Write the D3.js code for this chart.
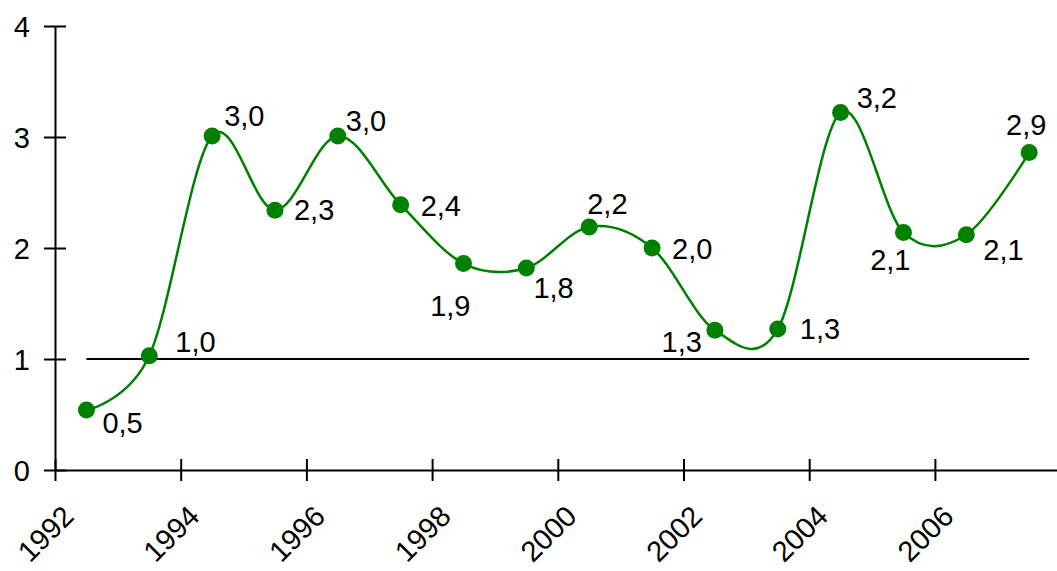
<!DOCTYPE html>
<html>
<head>
<meta charset="utf-8">
<script src="https://cdn.jsdelivr.net/npm/d3@7"></script>
<style>
  html, body { margin: 0; padding: 0; background: #fff; }
  svg { display: block; font-family: "Liberation Sans", Arial, sans-serif; }
</style>
</head>
<body>
<svg id="chart" width="1057" height="571"></svg>
<script>
// Yearly values, plotted at the middle of each year
const periods = [1992, 1993, 1994, 1995, 1996, 1997, 1998, 1999,
                 2000, 2001, 2002, 2003, 2004, 2005, 2006, 2007];
const values  = [0.54, 1.03, 3.01, 2.34, 3.01, 2.39, 1.86, 1.82,
                 2.19, 2.00, 1.26, 1.27, 3.22, 2.14, 2.12, 2.86];

// Axis ticks
const xTickYears = [1992, 1994, 1996, 1998, 2000, 2002, 2004, 2006];
const yTickValues = [0, 1, 2, 3, 4];

// Horizontal reference level
const referenceLevel = 1;

// Value label placement around each point: [dx, dy, anchor]
const labelPlacement = [
  [16, 23, "start"], [26, -4, "start"], [12, -10, "start"], [19, 10, "start"],
  [8, -5, "start"],  [20, 11, "start"], [7, 52, "end"],     [7, 30, "start"],
  [-2, -13, "start"], [20, 11, "start"], [-13, 22, "end"],  [22, 10, "start"],
  [16, -5, "start"], [7, 38, "end"],    [17, 25, "start"],  [-3, -18, "middle"]
];

const svg = d3.select("#chart");
const x = d3.scaleLinear().domain([1992, 2008]).range([55, 1060.6]);
const y = d3.scaleLinear().domain([0, 4]).range([470, 26]);

const commaLocale = d3.formatLocale({ decimal: ",", thousands: " ", grouping: [3], currency: ["", ""] });
const fmt = commaLocale.format(".1f");

const points = periods.map((p, i) => ({ t: p + 0.5, v: values[i] }));

// Y axis
const yAxis = svg.append("g")
  .attr("transform", `translate(${x(1992)},0)`)
  .call(d3.axisLeft(y).tickValues(yTickValues).tickSizeOuter(0).tickSizeInner(11).tickFormat(d3.format("d")));
yAxis.select(".domain").attr("stroke", "#000").attr("stroke-width", 2);
yAxis.selectAll(".tick line").attr("x1", -11).attr("x2", 11).attr("stroke", "#000").attr("stroke-width", 2);
yAxis.selectAll(".tick text").attr("x", -25).attr("dy", "0.36em")
  .attr("font-size", 29).attr("fill", "#000").attr("font-family", "Liberation Sans, Arial, sans-serif");

// X axis
const xAxis = svg.append("g")
  .attr("transform", `translate(0,${y(0)})`)
  .call(d3.axisBottom(x).tickValues(xTickYears).tickSizeOuter(0).tickSizeInner(11).tickFormat(d => String(d)));
xAxis.select(".domain").attr("stroke", "#000").attr("stroke-width", 2);
xAxis.selectAll(".tick line").attr("y1", -11).attr("y2", 11).attr("stroke", "#000").attr("stroke-width", 2);
xAxis.selectAll(".tick text")
  .attr("y", 0).attr("dy", 0)
  .attr("text-anchor", "end")
  .attr("transform", "translate(20,48) rotate(-45)")
  .attr("font-size", 29).attr("fill", "#000").attr("font-family", "Liberation Sans, Arial, sans-serif");

// Reference line
svg.append("line")
  .attr("x1", x(points[0].t)).attr("x2", x(points[points.length - 1].t))
  .attr("y1", y(referenceLevel)).attr("y2", y(referenceLevel))
  .attr("stroke", "#000").attr("stroke-width", 2);

// Smoothed series line
const line = d3.line()
  .x(d => x(d.t)).y(d => y(d.v))
  .curve(d3.curveCardinal.tension(0));
svg.append("path")
  .datum(points)
  .attr("d", line)
  .attr("fill", "none")
  .attr("stroke", "#008000")
  .attr("stroke-width", 2.5);

// Markers
svg.append("g").selectAll("circle")
  .data(points)
  .join("circle")
  .attr("cx", d => x(d.t)).attr("cy", d => y(d.v))
  .attr("r", 8.5)
  .attr("fill", "#008000");

// Value labels
svg.append("g").selectAll("text")
  .data(points)
  .join("text")
  .attr("x", (d, i) => x(d.t) + labelPlacement[i][0])
  .attr("y", (d, i) => y(d.v) + labelPlacement[i][1])
  .attr("text-anchor", (d, i) => labelPlacement[i][2])
  .attr("font-size", 29)
  .attr("fill", "#000")
  .text(d => fmt(d.v));
</script>
</body>
</html>
